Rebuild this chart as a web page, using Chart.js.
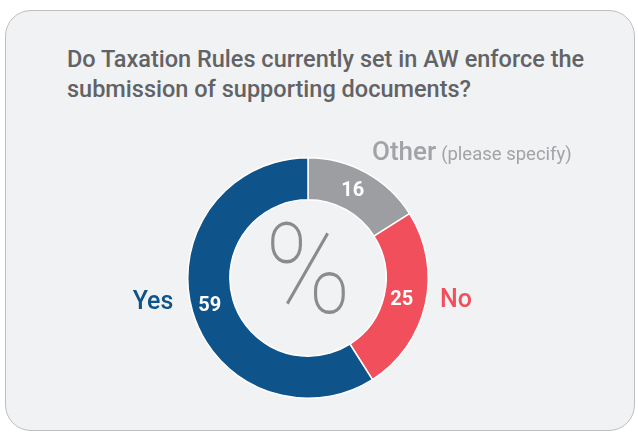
<!DOCTYPE html>
<html>
<head>
<meta charset="utf-8">
<script src="https://cdn.jsdelivr.net/npm/chart.js@4"></script>
<style>
  html, body { margin: 0; padding: 0; background: #ffffff; }
  body { width: 638px; height: 434px; position: relative; overflow: hidden; font-family: Roboto, "Noto Sans", sans-serif; }
  #card {
    position: absolute; left: 5px; top: 10px; width: 628px; height: 419px;
    background: #f1f2f4; border: 1.5px solid #bfbfc1; border-radius: 26px;
  }
  #title {
    position: absolute; left: 67px; top: 44px; width: 560px;
    font-size: 23.5px; font-weight: 500; line-height: 30px; color: #616366;
  }
  #chart { position: absolute; left: 0; top: 0; }
</style>
</head>
<body>
<div id="card"></div>
<div id="title">Do Taxation Rules currently set in AW enforce the<br>submission of supporting documents?</div>
<canvas id="chart" width="638" height="434"></canvas>
<script>
// Data
const categories = ['Other', 'No', 'Yes'];
const values = [16, 25, 59];
const sliceColors = ['#9d9ea2', '#f04f5b', '#0e5389'];

// Labels next to the ring
const outerLabels = {
  yes: { text: 'Yes', color: '#0e5389' },
  no: { text: 'No', color: '#f04f5b' },
  other: { text: 'Other', note: '(please specify)', color: '#a2a3a6' }
};

const ctx = document.getElementById('chart').getContext('2d');

// Draws numbers in the slices, the % sign and the side labels
const labelPlugin = {
  id: 'labels',
  afterDatasetsDraw(chart) {
    const c = chart.ctx;
    const arcs = chart.getDatasetMeta(0).data;
    const cx = arcs[0].x, cy = arcs[0].y;
    c.save();
    c.textAlign = 'center';
    c.textBaseline = 'middle';
    c.fillStyle = '#ffffff';
    c.font = 'bold 20px Roboto';
    arcs.forEach((arc, i) => {
      const p = arc.tooltipPosition();
      c.fillText(values[i], p.x - 3, p.y);
    });

    // center percent sign, a bit taller than wide like the original
    c.save();
    c.translate(cx, cy + 4);
    c.scale(1, 1.08);
    c.fillStyle = '#8a8b8d';
    c.font = '100 116px Roboto';
    c.fillText('%', 0, 0);
    c.restore();

    // side labels
    c.font = '500 25px Roboto';
    c.fillStyle = outerLabels.yes.color;
    c.fillText(outerLabels.yes.text, cx - 155, cy + 25);
    c.fillStyle = outerLabels.no.color;
    c.fillText(outerLabels.no.text, cx + 148, cy + 23);

    c.textAlign = 'left';
    c.textBaseline = 'alphabetic';
    c.fillStyle = outerLabels.other.color;
    c.font = '500 26px Roboto';
    c.fillText(outerLabels.other.text, cx + 64, cy - 118);
    const w = c.measureText(outerLabels.other.text).width;
    c.font = '18.5px Roboto';
    c.fillText(outerLabels.other.note, cx + 64 + w + 5, cy - 118);
    c.restore();
  }
};

new Chart(ctx, {
  type: 'doughnut',
  data: {
    labels: categories,
    datasets: [{
      data: values,
      backgroundColor: sliceColors,
      borderColor: '#ffffff',
      borderWidth: 1.5,
      hoverOffset: 0
    }]
  },
  options: {
    responsive: false,
    animation: false,
    cutout: '65%',
    layout: { padding: { top: 157, bottom: 35, left: 187, right: 209 } },
    plugins: {
      legend: { display: false },
      tooltip: { enabled: false }
    }
  },
  plugins: [labelPlugin]
});
</script>
</body>
</html>
